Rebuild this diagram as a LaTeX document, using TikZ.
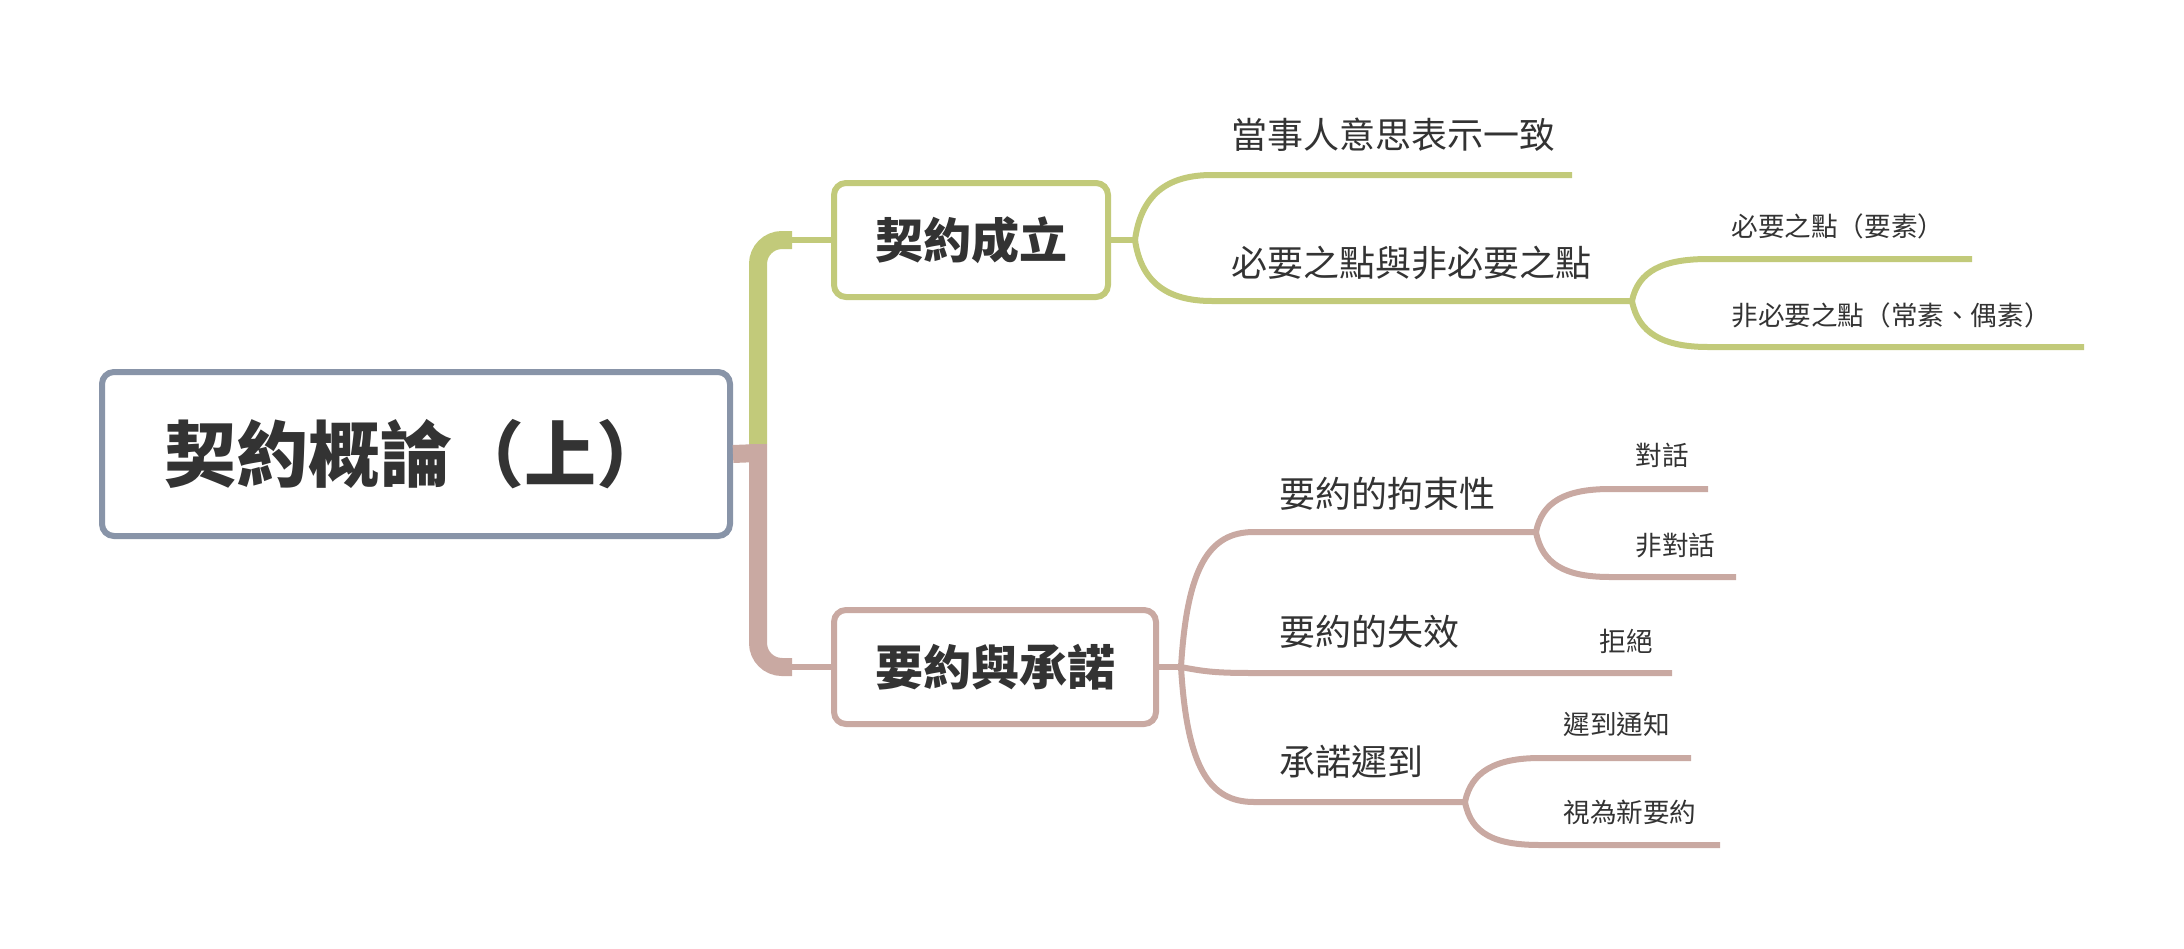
\documentclass[tikz,border=0pt]{standalone}
\usepackage{fontspec}
\setmainfont{Noto Sans CJK TC}
\usetikzlibrary{positioning}
\definecolor{mapgreen}{HTML}{C2CA7A}
\definecolor{mappink}{HTML}{C9A9A2}
\definecolor{mapslate}{HTML}{8894A8}
\definecolor{mapink}{HTML}{333333}

\begin{document}
\begin{tikzpicture}[x=0.5pt,y=-0.5pt,
  box/.style={draw,rounded corners=6pt,line width=3pt,fill=white,text=mapink,font=\fontsize{24}{28}\selectfont\bfseries},
  topic/.style={anchor=west,inner sep=0pt,text=mapink,font=\fontsize{18}{22}\selectfont},
  leaf/.style={anchor=west,inner sep=0pt,text=mapink,font=\fontsize{13.3}{16}\selectfont},
  twig/.style={line width=3pt}]
  \useasboundingbox (0,0) rectangle (2184,948);
  % main boxes
  \node[box,draw=mapslate,minimum width=314pt,minimum height=82pt,font=\fontsize{36}{40}\selectfont\bfseries] (root) at (416,454) {契約概論（上）};
  \node[box,draw=mapgreen,minimum width=137pt,minimum height=57pt] (formed) at (971,240) {契約成立};
  \node[box,draw=mappink,minimum width=161pt,minimum height=57pt] (offeracc) at (995,667) {要約與承諾};
  % trunk
  \coordinate (hub) at (758,453);
  \coordinate (hubtop) at (758,444);
  \coordinate (kneeA) at (792,240);
  \coordinate (kneeB) at (792,667);
  \draw[mapgreen,line width=9pt,rounded corners=12pt] (hubtop) |- (kneeA);
  \draw[mappink,line width=9pt,rounded corners=12pt] (hubtop) |- (kneeB);
  \draw[mappink,line width=9pt] (root.east) -- (hub);
  \draw[mapgreen,line width=3pt] (kneeA) -- (formed.west);
  \draw[mappink,line width=3pt] (kneeB) -- (offeracc.west);
  % 契約成立
  \coordinate (forkA) at (1135,240);
  \coordinate (consentS) at (1212,175);
  \coordinate (consentE) at (1572,175);
  \coordinate (essentS) at (1212,301);
  \coordinate (forkB) at (1632,301);
  \coordinate (essAS) at (1708,259);
  \coordinate (essAE) at (1972,259);
  \coordinate (essBS) at (1708,347);
  \coordinate (essBE) at (2084,347);
  \draw[twig,mapgreen] (formed.east) -- (forkA);
  \draw[twig,mapgreen] (forkA) .. controls +(6,-45) and +(-45,0) .. (consentS) -- (consentE);
  \draw[twig,mapgreen] (forkA) .. controls +(6,42) and +(-45,0) .. (essentS) -- (forkB);
  \draw[twig,mapgreen] (forkB) .. controls +(6,-30) and +(-45,0) .. (essAS) -- (essAE);
  \draw[twig,mapgreen] (forkB) .. controls +(6,32) and +(-45,0) .. (essBS) -- (essBE);
  \node[topic] (consent) at (1231,135) {當事人意思表示一致};
  \node[topic] (essent) at (1231,263) {必要之點與非必要之點};
  \node[leaf] (essA) at (1731,226) {必要之點（要素）};
  \node[leaf] (essB) at (1731,315) {非必要之點（常素、偶素）};
  % 要約與承諾
  \coordinate (forkC) at (1181,667);
  \coordinate (bindS) at (1254,532);
  \coordinate (forkD) at (1536,532);
  \coordinate (talkS) at (1610,489);
  \coordinate (talkE) at (1708,489);
  \coordinate (notalkS) at (1610,577);
  \coordinate (notalkE) at (1736,577);
  \coordinate (lapseS) at (1254,673);
  \coordinate (rejectE) at (1672,673);
  \coordinate (lateS) at (1254,802);
  \coordinate (forkE) at (1465,802);
  \coordinate (latenoteS) at (1540,758);
  \coordinate (latenoteE) at (1691,758);
  \coordinate (newofferS) at (1540,845);
  \coordinate (newofferE) at (1720,845);
  \draw[twig,mappink] (offeracc.east) -- (forkC);
  \draw[twig,mappink] (forkC) .. controls +(6,-100) and +(-45,0) .. (bindS) -- (forkD);
  \draw[twig,mappink] (forkC) .. controls +(25,5) and +(-35,0) .. (lapseS) -- (rejectE);
  \draw[twig,mappink] (forkC) .. controls +(6,100) and +(-45,0) .. (lateS) -- (forkE);
  \draw[twig,mappink] (forkD) .. controls +(6,-30) and +(-45,0) .. (talkS) -- (talkE);
  \draw[twig,mappink] (forkD) .. controls +(6,32) and +(-45,0) .. (notalkS) -- (notalkE);
  \draw[twig,mappink] (forkE) .. controls +(6,-30) and +(-45,0) .. (latenoteS) -- (latenoteE);
  \draw[twig,mappink] (forkE) .. controls +(6,32) and +(-45,0) .. (newofferS) -- (newofferE);
  \node[topic] (bind) at (1279,494) {要約的拘束性};
  \node[topic] (lapse) at (1279,632) {要約的失效};
  \node[topic] (late) at (1279,762) {承諾遲到};
  \node[leaf] (talk) at (1635,455) {對話};
  \node[leaf] (notalk) at (1635,545) {非對話};
  \node[leaf] (reject) at (1599,641) {拒絕};
  \node[leaf] (latenote) at (1563,724) {遲到通知};
  \node[leaf] (newoffer) at (1563,812) {視為新要約};
\end{tikzpicture}
\end{document}
